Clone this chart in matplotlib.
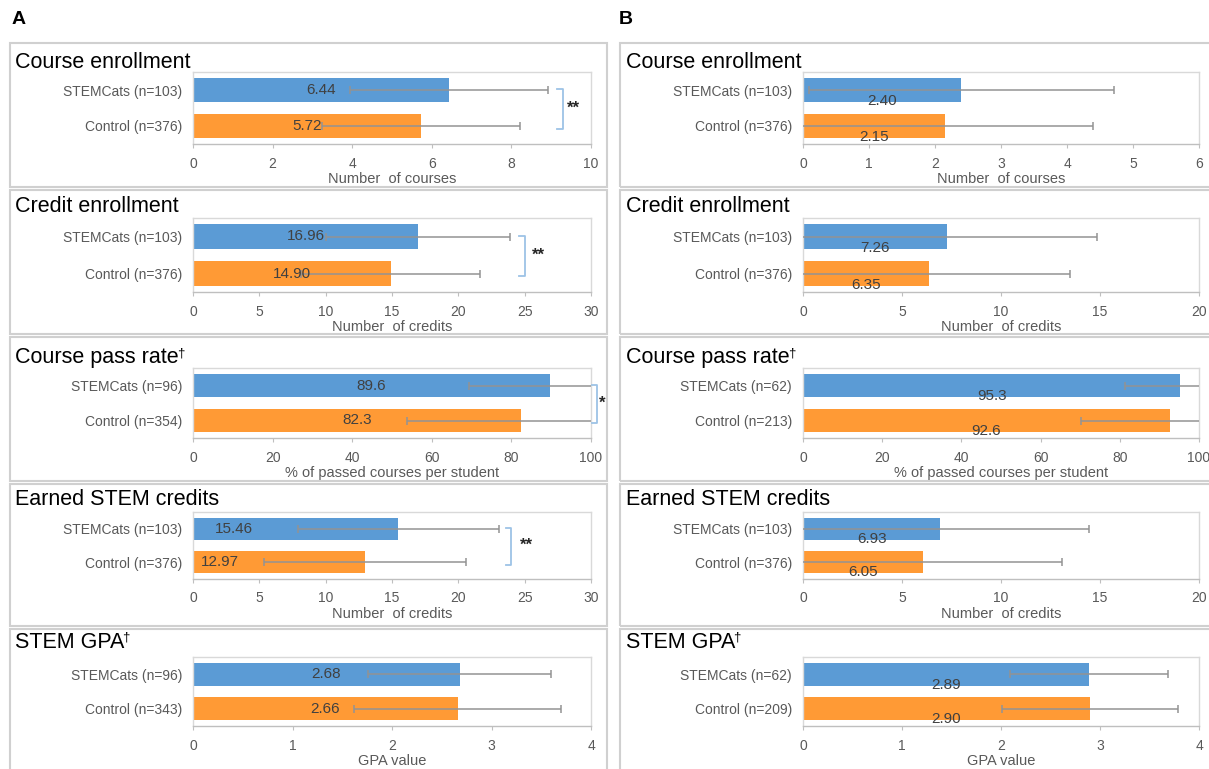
import matplotlib
matplotlib.use("Agg")
import matplotlib.pyplot as plt
from matplotlib.patches import Rectangle

plt.rcParams['font.family'] = ['Liberation Sans', 'DejaVu Sans']

W, H = 1209, 769

# ---------------- data ----------------
titles = ["Course enrollment", "Credit enrollment", "Course pass rate",
          "Earned STEM credits", "STEM GPA"]
has_dagger = [False, False, True, False, True]
xlabels = ["Number  of courses", "Number  of credits",
           "% of passed courses per student", "Number  of credits", "GPA value"]
decimals = [2, 2, 1, 2, 2]

labels_A = [["STEMCats (n=103)", "Control (n=376)"],
            ["STEMCats (n=103)", "Control (n=376)"],
            ["STEMCats (n=96)", "Control (n=354)"],
            ["STEMCats (n=103)", "Control (n=376)"],
            ["STEMCats (n=96)", "Control (n=343)"]]
means_A = [[6.44, 5.72], [16.96, 14.90], [89.6, 82.3], [15.46, 12.97], [2.68, 2.66]]
sd_A = [[2.49, 2.49], [6.95, 6.77], [20.2, 28.5], [7.58, 7.60], [0.92, 1.04]]
xmax_A = [10, 30, 100, 30, 4]
xstep_A = [2, 5, 20, 5, 1]
signif_A = ["**", "**", "*", "**", ""]

labels_B = [["STEMCats (n=103)", "Control (n=376)"],
            ["STEMCats (n=103)", "Control (n=376)"],
            ["STEMCats (n=62)", "Control (n=213)"],
            ["STEMCats (n=103)", "Control (n=376)"],
            ["STEMCats (n=62)", "Control (n=209)"]]
means_B = [[2.40, 2.15], [7.26, 6.35], [95.3, 92.6], [6.93, 6.05], [2.89, 2.90]]
sd_B = [[2.31, 2.24], [7.58, 7.13], [13.9, 22.3], [7.52, 7.04], [0.795, 0.89]]
xmax_B = [6, 20, 100, 20, 4]
xstep_B = [1, 5, 20, 5, 1]
signif_B = ["", "", "", "", ""]

# ---------------- layout (pixels) ----------------
box_y = [(43, 187), (190, 334), (337, 481), (484, 626), (629, 778)]
frame_y = [(72, 144), (218, 292), (368, 438), (512, 579), (657, 726)]
title_y = [62, 206, 358, 500, 643]

# bracket x (left, right) and star x, in data units, column A only
bracket_A = [(9.15, 9.3), (24.6, 25.0), (100.2, 101.6), (23.6, 24.0), None]
star_A = [9.56, 26.0, 102.8, 25.1, None]

BLUE = '#5B9BD5'
ORANGE = '#FF9A35'
GRID = '#D9D9D9'
TXT = '#595959'

fig = plt.figure(figsize=(W / 100, H / 100), dpi=100)


def fx(x):
    return x / W


def fy(y):
    return 1 - y / H


def draw_column(letter, letter_x, box_x, frame_x, title_x, labels, means, sds,
                xmax, xstep, signif, low_labels, label_x=None):
    fig.text(fx(letter_x), fy(20), letter, fontsize=14, fontweight='bold',
             ha='left', va='center')
    for i in range(5):
        y0, y1 = box_y[i]
        fig.add_artist(Rectangle((fx(box_x[0]), fy(y1)), fx(box_x[1] - box_x[0]),
                                 (y1 - y0) / H, transform=fig.transFigure,
                                 fill=False, edgecolor='#D0D0D0', lw=1.5))
        t = fig.text(fx(title_x), fy(title_y[i]), titles[i], fontsize=15.5,
                     ha='left', va='center')
        if has_dagger[i]:
            r = fig.canvas.get_renderer()
            bb = t.get_window_extent(renderer=r)
            fig.text(bb.x1 / W - 0.0015, fy(title_y[i] - 5), "\u2020",
                     fontsize=9.5, ha='left', va='center')

        fy0, fy1 = frame_y[i]
        ax = fig.add_axes([fx(frame_x[0]), fy(fy1), fx(frame_x[1] - frame_x[0]),
                           (fy1 - fy0) / H])
        ypos = [0, 1]
        ax.barh(ypos, means[i], height=0.67, color=[BLUE, ORANGE], zorder=2)
        ax.errorbar(means[i], ypos, xerr=sds[i], fmt='none', ecolor='#939393',
                    elinewidth=1.1, capsize=3, capthick=1.1, zorder=3)
        ax.set_xlim(0, xmax[i])
        ax.set_ylim(1.5, -0.5)
        ax.set_xticks(list(range(0, xmax[i] + 1, xstep[i])))
        ax.set_yticks(ypos)
        ax.set_yticklabels(labels[i])
        for s in ax.spines.values():
            s.set_color(GRID)
            s.set_linewidth(1.0)
        ax.spines['bottom'].set_color('#BFBFBF')
        ax.tick_params(axis='x', direction='out', length=3, color='#BFBFBF',
                       labelcolor=TXT, labelsize=10, pad=6)
        ax.tick_params(axis='y', length=0, labelcolor=TXT, labelsize=10, pad=8)
        ax.set_xlabel(xlabels[i], fontsize=10.5, color=TXT, labelpad=1)

        for j in range(2):
            txt = f"{means[i][j]:.{decimals[i]}f}"
            if label_x is not None and label_x[i] is not None:
                lx = label_x[i][j]
            else:
                lx = means[i][j] / 2
            ly = ypos[j] + (0.3 if low_labels else 0)
            ax.text(lx, ly, txt, fontsize=11, color='#404040', ha='center',
                    va='center', zorder=4)

        if signif[i]:
            b0, b1 = bracket_A[i]
            ax.plot([b0, b1, b1, b0], [-0.02, -0.02, 1.08, 1.08], color='#9DC3E6',
                    lw=1.3, clip_on=False, zorder=5)
            ax.text(star_A[i], 0.5, signif[i], fontsize=12, fontweight='bold',
                    color='#262626', ha='center', va='center', clip_on=False,
                    zorder=6)


draw_column('A', 12, (10, 607), (193, 591), 15, labels_A, means_A, sd_A,
            xmax_A, xstep_A, signif_A, False,
            label_x=[None, None, None, [3.05, 2.0], None])
draw_column('B', 619, (620, 1216), (803, 1199), 626, labels_B, means_B, sd_B,
            xmax_B, xstep_B, signif_B, True)

fig.savefig("out.png", dpi=100)
